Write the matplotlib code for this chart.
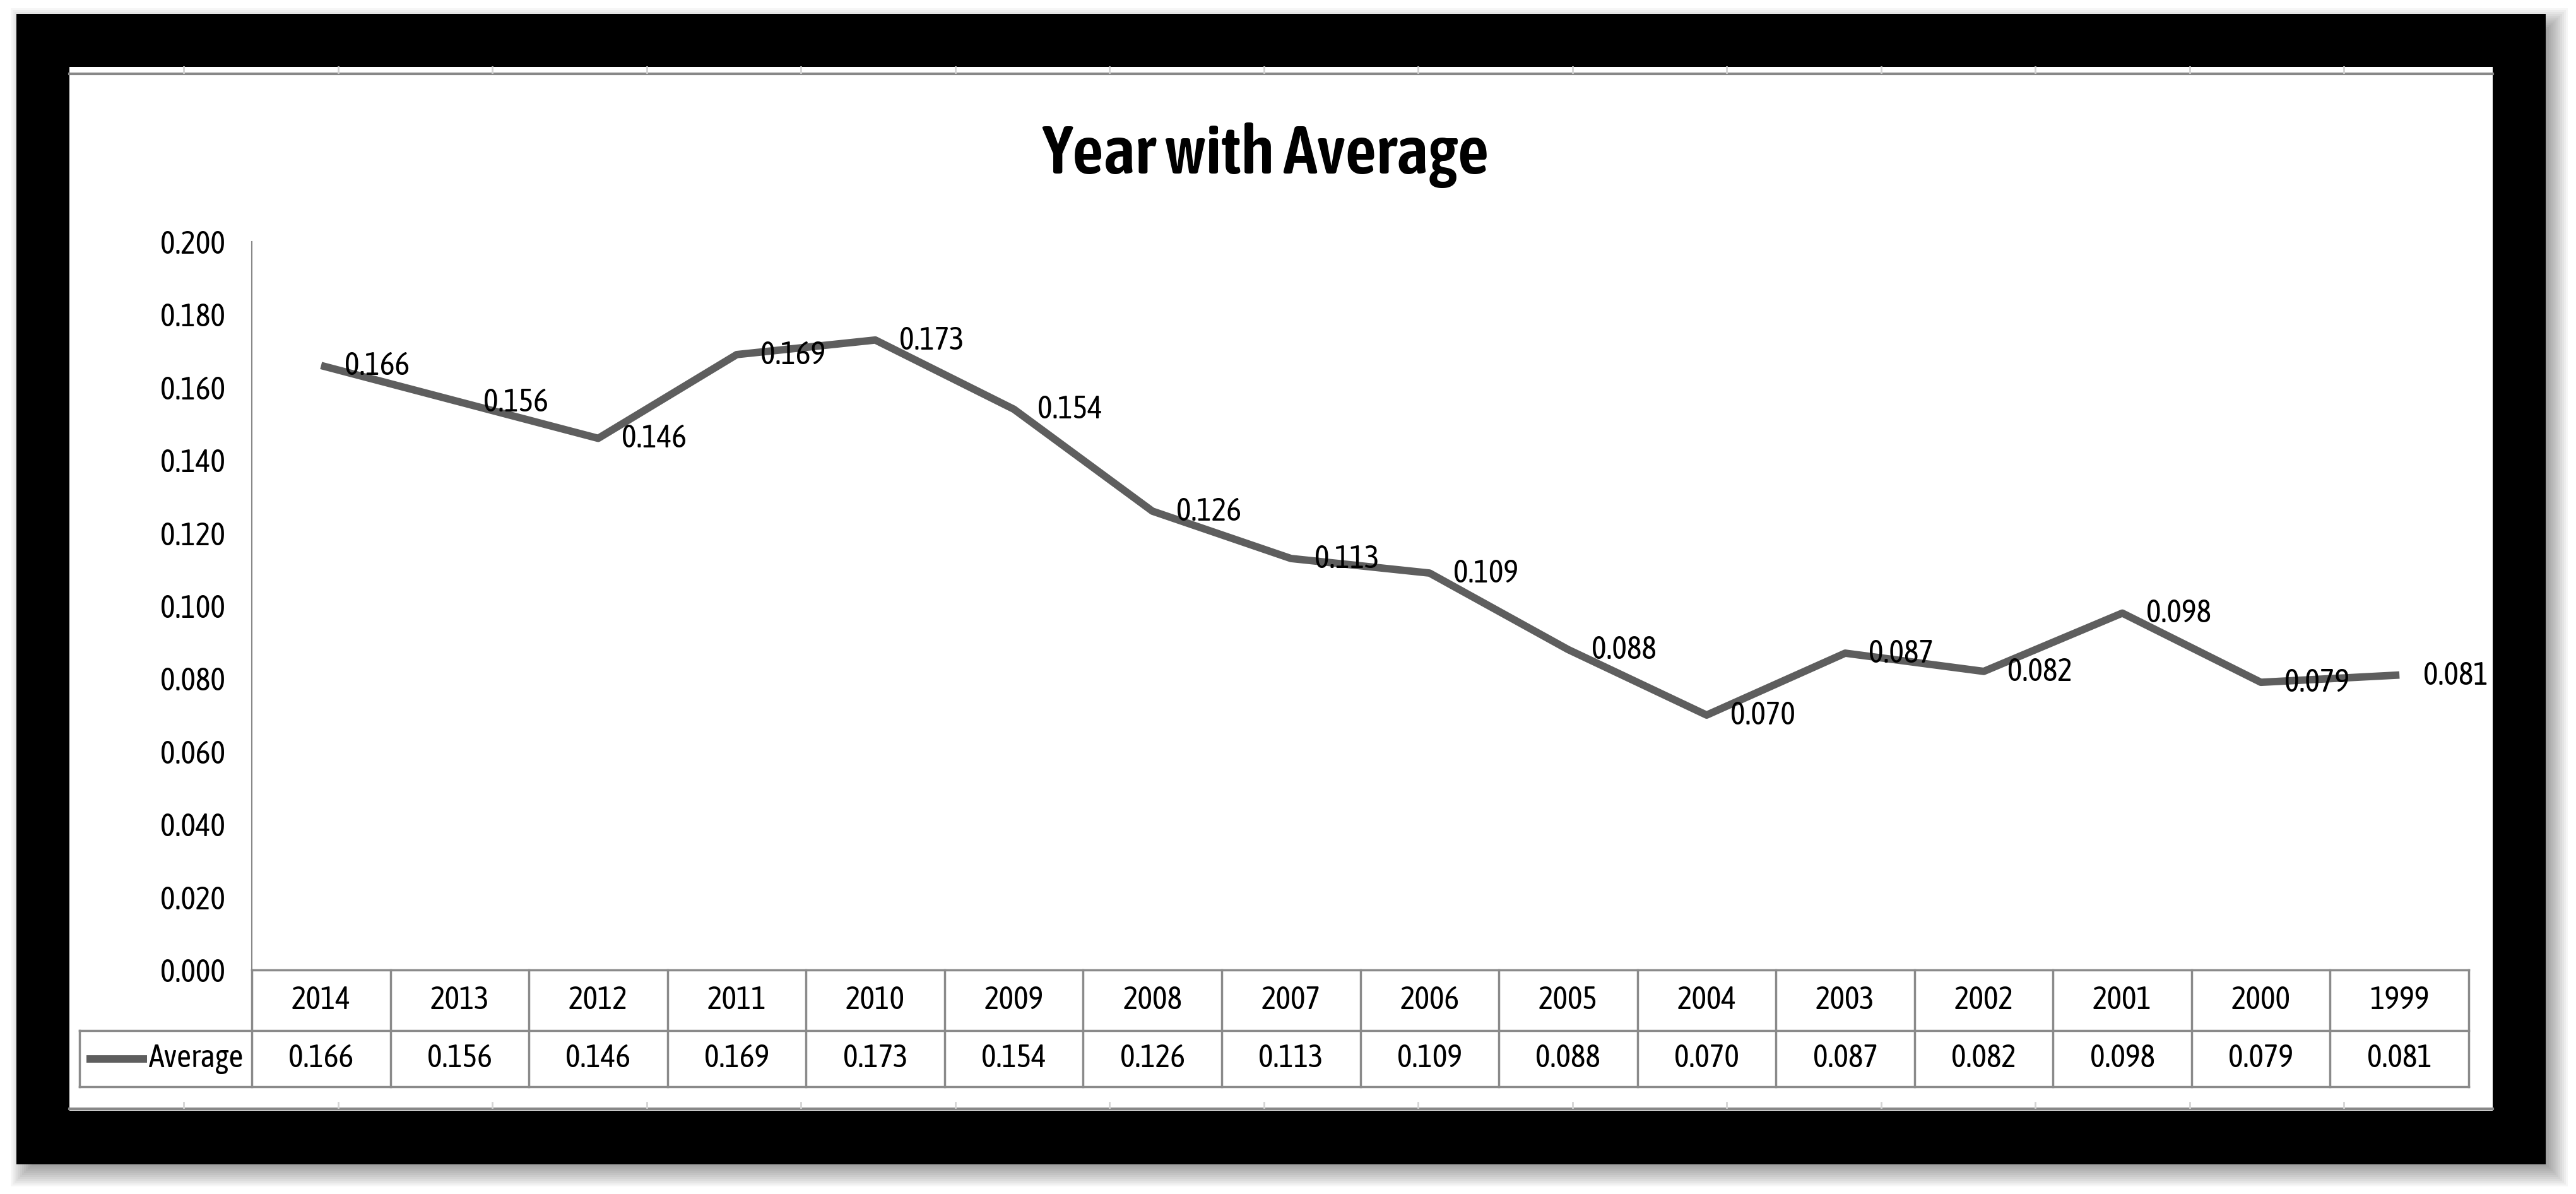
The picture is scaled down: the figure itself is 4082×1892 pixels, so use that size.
import matplotlib
matplotlib.use('Agg')
import matplotlib.pyplot as plt
from matplotlib.patches import Rectangle
from matplotlib.lines import Line2D

# 数据
years = ['2014', '2013', '2012', '2011', '2010', '2009', '2008', '2007',
         '2006', '2005', '2004', '2003', '2002', '2001', '2000', '1999']
average = [0.166, 0.156, 0.146, 0.169, 0.173, 0.154, 0.126, 0.113,
           0.109, 0.088, 0.070, 0.087, 0.082, 0.098, 0.079, 0.081]
y_ticks = [0.00, 0.02, 0.04, 0.06, 0.08, 0.10, 0.12, 0.14, 0.16, 0.18, 0.20]
series_name = 'Average'
title = 'Year with Average'

# 字体: 图里的字很窄
plt.rcParams['font.family'] = ['Asap Condensed', 'Liberation Sans Narrow',
                               'Archivo Narrow', 'DejaVu Sans']
FS = 36
LINE_C = '#5e5e5e'
LINE_W = 8.5

W, H = 4082, 1892
DPI = 100
fig = plt.figure(figsize=(W / DPI, H / DPI), dpi=DPI)
fig.patch.set_facecolor('white')


def fx(px):
    return px / W


def fy(py):
    return 1 - py / H


def frect(x0, y0, x1, y1, **kw):
    r = Rectangle((fx(x0), fy(y1)), fx(x1) - fx(x0), fy(y0) - fy(y1),
                  transform=fig.transFigure, **kw)
    fig.patches.append(r)


# 阴影 (简单模拟模糊)
for k in range(14):
    g = k * 3
    frect(26 + 30 - g, 22 + 30 - g, 4034 + g - 4, 1845 + g - 4,
          facecolor='black', edgecolor='none', alpha=0.035, zorder=0)
# 黑色边框
frect(26, 22, 4034, 1845, facecolor='black', edgecolor='none', zorder=1)
# 白色内区
frect(110, 106, 3950, 1760, facecolor='white', edgecolor='none', zorder=2)

# 顶部/底部灰线和单元格小竖线
for yy in (117, 1757):
    fig.lines.append(Line2D([fx(110), fx(3950)], [fy(yy), fy(yy)], color='#888888',
                            lw=3.0, transform=fig.transFigure, zorder=3))
xx = 291
while xx < 3950:
    fig.lines.append(Line2D([fx(xx), fx(xx)], [fy(106), fy(115)], color='#d4d4d4',
                            lw=2.0, transform=fig.transFigure, zorder=3))
    fig.lines.append(Line2D([fx(xx), fx(xx)], [fy(1747), fy(1755)], color='#d4d4d4',
                            lw=2.0, transform=fig.transFigure, zorder=3))
    xx += 244.5

# 绘图区
left, right, top, bottom = 399, 3912, 383, 1537
ax = fig.add_axes([fx(left), fy(bottom), fx(right) - fx(left), fy(top) - fy(bottom)])
ax.set_zorder(5)
ax.patch.set_alpha(0)

x = list(range(len(years)))
ax.plot(x, average, color=LINE_C, lw=LINE_W, solid_joinstyle='round',
        solid_capstyle='butt', zorder=3)
for xi, v in zip(x, average):
    ax.annotate(f'{v:.3f}', (xi, v), xytext=(27, -1), textcoords='offset points',
                ha='left', va='center', fontsize=FS, color='black', zorder=4,
                annotation_clip=False)

ax.set_xlim(-0.5, len(years) - 0.5)
ax.set_ylim(0, 0.2)
ax.set_yticks(y_ticks)
ax.set_yticklabels([f'{t:.3f}' for t in y_ticks])
ax.tick_params(axis='y', length=0, pad=30, labelsize=FS, labelcolor='black')
ax.tick_params(axis='x', length=0, labelbottom=False)
for s in ('top', 'right'):
    ax.spines[s].set_visible(False)
ax.spines['left'].set_color('#888888')
ax.spines['left'].set_linewidth(1.5)
ax.spines['bottom'].set_visible(False)

# 数据表
col_w = (right - left) / len(years)
h1 = (1633 - bottom) / (bottom - top)   # 第一行底 (轴坐标)
h2 = (1722 - bottom) / (bottom - top)   # 第二行底
leg_left = -0.5 - (left - 126) / col_w
tr = ax.get_xaxis_transform()
tcol = '#8a8a8a'
tlw = 2.5


def tline(xs, ys):
    ax.plot(xs, ys, color=tcol, lw=tlw, transform=tr, clip_on=False, zorder=2)


tline([-0.5, len(years) - 0.5], [0, 0])
tline([leg_left, len(years) - 0.5], [-h1, -h1])
tline([leg_left, len(years) - 0.5], [-h2, -h2])
for i in range(len(years) + 1):
    tline([i - 0.5, i - 0.5], [0, -h2])
tline([leg_left, leg_left], [-h1, -h2])

for xi, yr, v in zip(x, years, average):
    ax.text(xi, -h1 / 2, yr, transform=tr, ha='center', va='center',
            fontsize=FS, color='black')
    ax.text(xi, -(h1 + h2) / 2, f'{v:.3f}', transform=tr, ha='center', va='center',
            fontsize=FS, color='black')

# 图例键
ymid = -(h1 + h2) / 2
ax.plot([-0.5 - (left - 137) / col_w, -0.5 - (left - 233) / col_w], [ymid, ymid],
        color=LINE_C, lw=LINE_W, transform=tr, clip_on=False, solid_capstyle='butt')
ax.text(-0.5 - 13 / col_w, ymid, series_name, transform=tr, ha='right', va='center',
        fontsize=FS, color='black')

fig.text(fx(2005), fy(246), title, ha='center', va='center', fontsize=78,
         fontweight='semibold', color='black', zorder=6)

fig.savefig('out.png', dpi=DPI)
